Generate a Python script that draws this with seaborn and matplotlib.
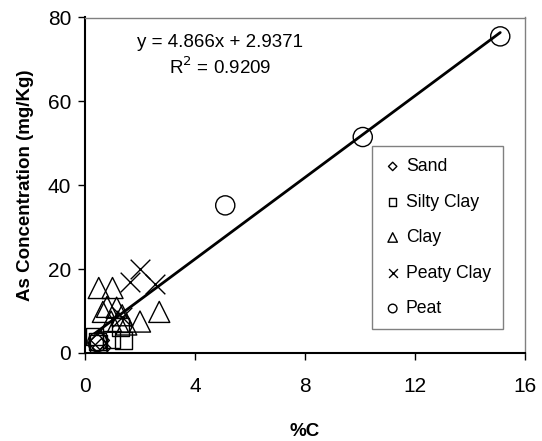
import numpy as np
import pandas as pd
import seaborn as sns
import matplotlib.pyplot as plt

sns.set_theme(style="white")
plt.rcParams['font.family'] = ['Liberation Sans', 'DejaVu Sans']
plt.rcParams['text.color'] = 'black'
plt.rcParams['axes.labelcolor'] = 'black'
plt.rcParams['xtick.color'] = 'black'
plt.rcParams['ytick.color'] = 'black'

# values
sand_x = [0.6, 0.55, 0.45]
sand_y = [1.2, 3.0, 2.4]
silty_x = [0.35, 0.45, 0.5, 1.4, 1.3, 0.95]
silty_y = [3.9, 2.8, 2.3, 3.0, 6.2, 3.2]
clay_x = [0.5, 1.0, 0.65, 1.15, 1.35, 0.95, 1.2, 1.5, 2.0, 2.7, 0.8]
clay_y = [15.5, 15.5, 9.8, 10.8, 9.0, 7.5, 7.5, 6.8, 7.5, 9.8, 11.0]
peaty_x = [2.0, 1.65, 2.55, 1.35]
peaty_y = [20.0, 17.0, 16.5, 8.5]
peat_x = [0.45, 5.1, 10.1, 15.1]
peat_y = [2.6, 35.2, 51.5, 75.5]

slope, intercept, r2 = 4.866, 2.9371, 0.9209
x_ticks = [0, 4, 8, 12, 16]
y_ticks = [0, 20, 40, 60, 80]

groups = [
    ("Sand", sand_x, sand_y, "D", 90),
    ("Silty Clay", silty_x, silty_y, "s", 150),
    ("Clay", clay_x, clay_y, "^", 230),
    ("Peaty Clay", peaty_x, peaty_y, "x", 200),
    ("Peat", peat_x, peat_y, "o", 190),
]

fig = plt.figure(figsize=(5.42, 4.41), dpi=100)
ax = fig.add_axes([85 / 542, 1 - 353 / 441, 440 / 542, 335.5 / 441])

for name, xs, ys, m, s in groups:
    if m == "x":
        sns.scatterplot(x=xs, y=ys, marker=m, s=s, color="black", linewidth=1.0,
                        label=name, ax=ax, zorder=3)
    else:
        sns.scatterplot(x=xs, y=ys, marker=m, s=s, facecolor="none", edgecolor="black",
                        linewidth=1.0, label=name, ax=ax, zorder=3)

# linear trendline as reported
all_x = sand_x + silty_x + clay_x + peaty_x + peat_x
line_x = np.array([min(all_x), max(all_x)])
sns.lineplot(x=line_x, y=slope * line_x + intercept, color="black", linewidth=2,
             ax=ax, zorder=4, legend=False)

ax.set_xlim(0, 16)
ax.set_ylim(0, 80)
ax.set_xticks(x_ticks)
ax.set_yticks(y_ticks)
ax.tick_params(axis="both", direction="out", length=5, width=1, color="black",
               labelsize=15, bottom=True, left=True)
ax.tick_params(axis="x", pad=12)
ax.tick_params(axis="y", pad=5)
for side in ["left", "bottom"]:
    ax.spines[side].set_color("black")
    ax.spines[side].set_linewidth(1.5)
for side in ["top", "right"]:
    ax.spines[side].set_color("#808080")
    ax.spines[side].set_linewidth(1.0)

ax.set_xlabel("%C", fontsize=13.5, fontweight="bold", labelpad=20)
ax.set_ylabel("As Concentration (mg/Kg)", fontsize=13.5, fontweight="bold", labelpad=10)

ax.text(0.307, 0.924, f"y = {slope}x + {intercept}", transform=ax.transAxes,
        ha="center", va="center", fontsize=13.5)
ax.text(0.307, 0.852, f"R$^2$ = {r2}", transform=ax.transAxes,
        ha="center", va="center", fontsize=13.5)

leg = ax.legend(loc="center", bbox_to_anchor=(0.802, 0.344), fontsize=12.7,
                markerscale=0.45, labelspacing=1.05, handletextpad=0.3,
                borderpad=0.7, borderaxespad=0, frameon=True, fancybox=False,
                handlelength=0.9)
leg.get_frame().set_edgecolor("#606060")
leg.get_frame().set_linewidth(1.0)

fig.savefig("out.png", dpi=100)
